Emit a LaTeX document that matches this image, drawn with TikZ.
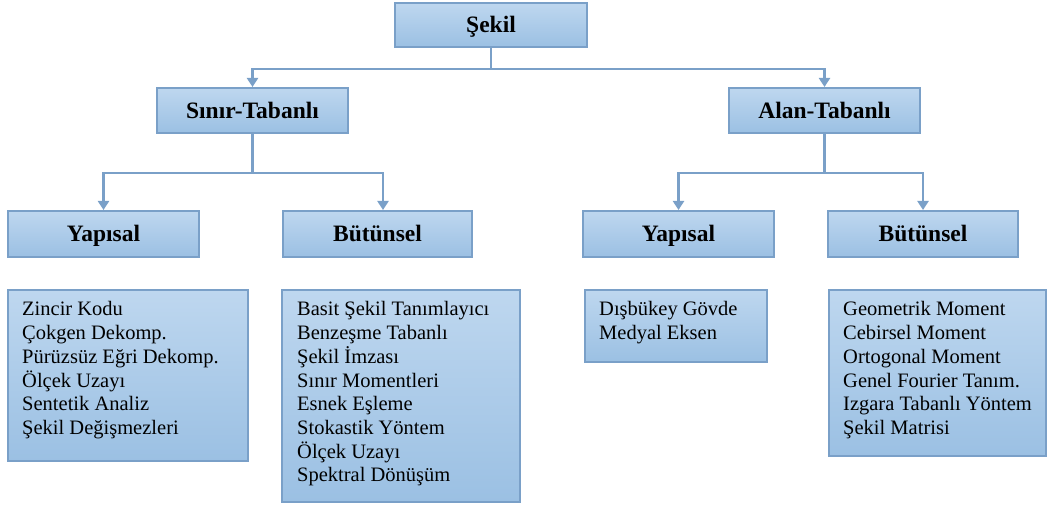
\documentclass[tikz,border=0pt]{standalone}
\usepackage{fontspec}
\setmainfont{Liberation Serif}
\usetikzlibrary{arrows.meta,positioning}
\definecolor{bordc}{RGB}{122,160,200}
\definecolor{filltop}{RGB}{190,215,239}
\definecolor{fillbot}{RGB}{155,192,227}
\begin{document}
\begin{tikzpicture}[x=1pt,y=1pt,
  box/.style={rectangle,draw=bordc,line width=2pt,top color=filltop,bottom color=fillbot,inner sep=0pt},
  head/.style={box,font=\bfseries\fontsize{23.5}{28}\selectfont,text height=15.5pt,text depth=0pt},
  listtxt/.style={anchor=north west,inner sep=0pt,align=left,font=\fontsize{20.5}{23.7}\selectfont},
  conn/.style={draw=bordc,line width=2.2pt},
  arr/.style={conn,-{Triangle[width=11pt,length=9pt]}}]
\useasboundingbox (0,0) rectangle (1049,506);
% header boxes
\node[head,minimum width=192,minimum height=44] (sekil) at (491,481) {Şekil};
\node[head,minimum width=191,minimum height=45] (sinir) at (252.5,395.5) {Sınır-Tabanlı};
\node[head,minimum width=191,minimum height=45] (alan) at (824.5,395.5) {Alan-Tabanlı};
\node[head,minimum width=191,minimum height=46] (yap1) at (103.5,272) {Yapısal};
\node[head,minimum width=189,minimum height=46] (but1) at (377.5,272) {Bütünsel};
\node[head,minimum width=191,minimum height=46] (yap2) at (678.5,272) {Yapısal};
\node[head,minimum width=190,minimum height=46] (but2) at (923,272) {Bütünsel};
% list boxes
\node[box,minimum width=240,minimum height=171] (l1) at (128,130.5) {};
\node[box,minimum width=238,minimum height=212] (l2) at (401,110) {};
\node[box,minimum width=182,minimum height=72] (l3) at (676,180) {};
\node[box,minimum width=217,minimum height=166] (l4) at (937.5,133) {};
\node[listtxt] (t1) at (22,204.5) {Zincir Kodu\\Çokgen Dekomp.\\Pürüzsüz Eğri Dekomp.\\Ölçek Uzayı\\Sentetik Analiz\\Şekil Değişmezleri};
\node[listtxt] (t2) at (297,204.5) {Basit Şekil Tanımlayıcı\\Benzeşme Tabanlı\\Şekil İmzası\\Sınır Momentleri\\Esnek Eşleme\\Stokastik Yöntem\\Ölçek Uzayı\\Spektral Dönüşüm};
\node[listtxt] (t3) at (599,204.5) {Dışbükey Gövde\\Medyal Eksen};
\node[listtxt] (t4) at (843,204.5) {Geometrik Moment\\Cebirsel Moment\\Ortogonal Moment\\Genel Fourier Tanım.\\Izgara Tabanlı Yöntem\\Şekil Matrisi};
% connectors
\coordinate (j0) at ([yshift=-21]sekil.south);
\coordinate (j1) at ([yshift=-39]sinir.south);
\coordinate (j2) at ([yshift=-39]alan.south);
\coordinate (b1top) at ([xshift=5.5]but1.north);
\draw[conn] (sekil.south) -- (j0);
\draw[arr] (j0) -| (sinir.north);
\draw[arr] (j0) -| (alan.north);
\draw[conn] (sinir.south) -- (j1);
\draw[arr] (j1) -| (yap1.north);
\draw[arr] (j1) -| (b1top);
\draw[conn] (alan.south) -- (j2);
\draw[arr] (j2) -| (yap2.north);
\draw[arr] (j2) -| (but2.north);
\end{tikzpicture}
\end{document}
